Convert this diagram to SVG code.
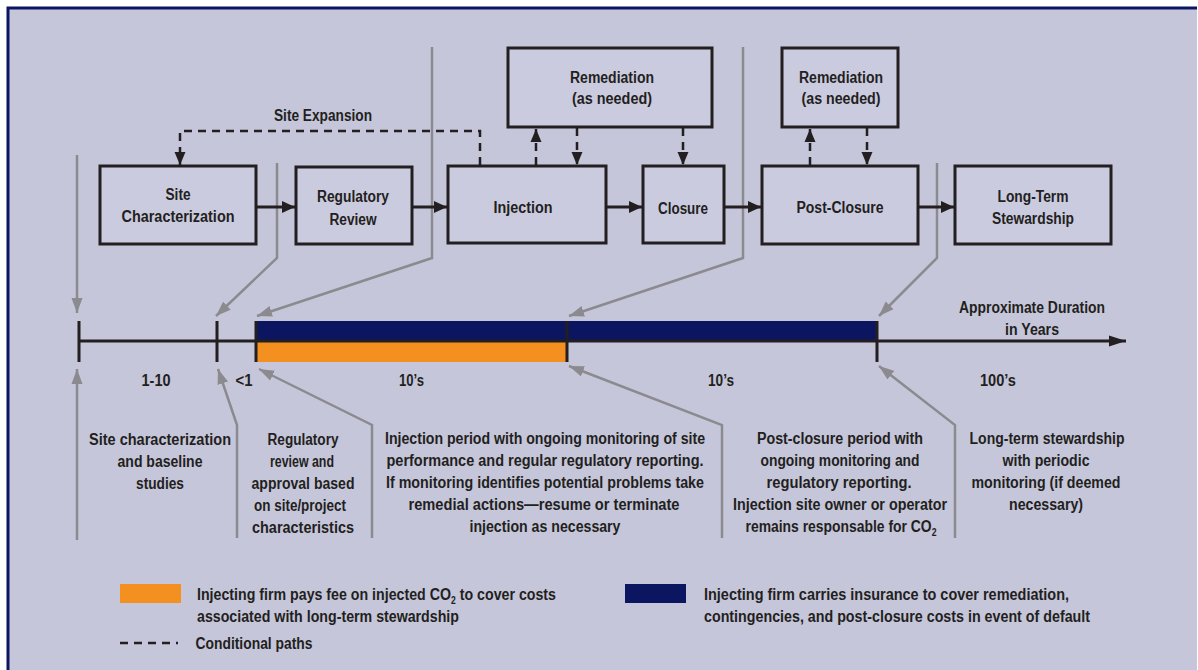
<svg xmlns="http://www.w3.org/2000/svg" width="1198" height="670" viewBox="0 0 1198 670">
<defs>
<style>
text{font-family:"Liberation Sans",Arial,sans-serif;font-weight:bold;fill:#231f20;}
.bt{font-size:16px;text-anchor:middle;}
.dt{font-size:16px;text-anchor:middle;}
.lt{font-size:16.5px;}
.box{fill:#cbcbe0;stroke:#231f20;stroke-width:3;}
.flow{fill:none;stroke:#231f20;stroke-width:3;}
.cond{fill:none;stroke:#231f20;stroke-width:2.5;stroke-dasharray:8 6;}
.call{fill:none;stroke:#8b8b8f;stroke-width:2.5;}
.tick{stroke:#231f20;stroke-width:3;}
</style>
<marker id="ab" markerUnits="userSpaceOnUse" markerWidth="14" markerHeight="12" refX="13" refY="6" orient="auto"><path d="M0,0 L13,6 L0,12 z" fill="#231f20"/></marker>
<marker id="at" markerUnits="userSpaceOnUse" markerWidth="18" markerHeight="12" refX="17" refY="6" orient="auto"><path d="M0,0.5 L17,6 L0,11.5 z" fill="#231f20"/></marker>
<marker id="ad" markerUnits="userSpaceOnUse" markerWidth="14" markerHeight="12" refX="13" refY="6" orient="auto"><path d="M0,0.5 L13,6 L0,11.5 z" fill="#231f20"/></marker>
<marker id="ag" markerUnits="userSpaceOnUse" markerWidth="16" markerHeight="12" refX="15" refY="6" orient="auto"><path d="M0,0.5 L15,6 L0,11.5 z" fill="#8b8b8f"/></marker>
</defs>
<rect x="0" y="0" width="1198" height="670" fill="#ffffff"/>
<rect x="8" y="8" width="1189" height="662" fill="#c5c6da"/>
<path d="M8,670 V8 H1197" fill="none" stroke="#0c1660" stroke-width="3"/>

<g id="callouts">
<path class="call" d="M77,155 V313" marker-end="url(#ag)"/>
<path class="call" d="M277,163 V258 L216,316" marker-end="url(#ag)"/>
<path class="call" d="M432,47 V258 L257,316" marker-end="url(#ag)"/>
<path class="call" d="M743,47 V258 L569,316" marker-end="url(#ag)"/>
<path class="call" d="M937,163 V258 L879,316" marker-end="url(#ag)"/>
<path class="call" d="M77,540 V369" marker-end="url(#ag)"/>
<path class="call" d="M237,538 V425 L218,369" marker-end="url(#ag)"/>
<path class="call" d="M372,538 V425 L259,369" marker-end="url(#ag)"/>
<path class="call" d="M722,538 V425 L569,366" marker-end="url(#ag)"/>
<path class="call" d="M955,538 V425 L879,366" marker-end="url(#ag)"/>
</g>

<g id="connectors">
<path class="flow" d="M256,207 H295" marker-end="url(#ab)"/>
<path class="flow" d="M412,207 H447" marker-end="url(#ab)"/>
<path class="flow" d="M606,207 H642" marker-end="url(#ab)"/>
<path class="flow" d="M724,207 H761" marker-end="url(#ab)"/>
<path class="flow" d="M918,207 H954" marker-end="url(#ab)"/>
<path class="cond" d="M480,165 V131 H180 V165" marker-end="url(#ad)"/>
<path class="cond" d="M536,165 V129" marker-end="url(#ad)"/>
<path class="cond" d="M577,128 V165" marker-end="url(#ad)"/>
<path class="cond" d="M683,128 V165" marker-end="url(#ad)"/>
<path class="cond" d="M810,165 V129" marker-end="url(#ad)"/>
<path class="cond" d="M867,128 V165" marker-end="url(#ad)"/>
<text class="bt" x="323" y="121" textLength="98" lengthAdjust="spacingAndGlyphs">Site Expansion</text>
</g>

<g id="site-characterization">
<rect class="box" x="100" y="166" width="156" height="78"/>
<text class="bt" x="178" y="199.5" textLength="25" lengthAdjust="spacingAndGlyphs">Site</text>
<text class="bt" x="178" y="222" textLength="113" lengthAdjust="spacingAndGlyphs">Characterization</text>
</g>
<g id="regulatory-review">
<rect class="box" x="296" y="167" width="116" height="77"/>
<text class="bt" x="353" y="202" textLength="72" lengthAdjust="spacingAndGlyphs">Regulatory</text>
<text class="bt" x="353" y="225" textLength="47" lengthAdjust="spacingAndGlyphs">Review</text>
</g>
<g id="injection">
<rect class="box" x="448" y="166" width="158" height="77"/>
<text class="bt" x="523" y="212.5" textLength="59" lengthAdjust="spacingAndGlyphs">Injection</text>
</g>
<g id="closure">
<rect class="box" x="643" y="166" width="81" height="77"/>
<text class="bt" x="683" y="213.5" textLength="50" lengthAdjust="spacingAndGlyphs">Closure</text>
</g>
<g id="remediation-1">
<rect class="box" x="508" y="48" width="204" height="79"/>
<text class="bt" x="612" y="82.5" textLength="84" lengthAdjust="spacingAndGlyphs">Remediation</text>
<text class="bt" x="612" y="104" textLength="80" lengthAdjust="spacingAndGlyphs">(as needed)</text>
</g>
<g id="post-closure">
<rect class="box" x="762" y="166" width="156" height="78"/>
<text class="bt" x="840" y="213" textLength="87" lengthAdjust="spacingAndGlyphs">Post-Closure</text>
</g>
<g id="remediation-2">
<rect class="box" x="782" y="48" width="116" height="79"/>
<text class="bt" x="841" y="82.5" textLength="84" lengthAdjust="spacingAndGlyphs">Remediation</text>
<text class="bt" x="841" y="104" textLength="79" lengthAdjust="spacingAndGlyphs">(as needed)</text>
</g>
<g id="long-term-stewardship">
<rect class="box" x="955" y="166" width="156" height="78"/>
<text class="bt" x="1033" y="202" textLength="71" lengthAdjust="spacingAndGlyphs">Long-Term</text>
<text class="bt" x="1033" y="224" textLength="82" lengthAdjust="spacingAndGlyphs">Stewardship</text>
</g>

<g id="timeline">
<rect x="256" y="321" width="621" height="20" fill="#0c1660"/>
<rect x="256" y="341" width="311" height="21" fill="#f3901f"/>
<path class="flow" d="M79,341 H1126" marker-end="url(#at)"/>
<line class="tick" x1="79" y1="321" x2="79" y2="362"/>
<line class="tick" x1="217" y1="321" x2="217" y2="362"/>
<line class="tick" x1="256" y1="321" x2="256" y2="362"/>
<line class="tick" x1="567" y1="321" x2="567" y2="362"/>
<line class="tick" x1="877" y1="321" x2="877" y2="362"/>
<text class="dt" x="1032" y="312.5" textLength="146" lengthAdjust="spacingAndGlyphs">Approximate Duration</text>
<text class="dt" x="1032" y="335" textLength="54" lengthAdjust="spacingAndGlyphs">in Years</text>
<text class="dt" x="156" y="386" textLength="29" lengthAdjust="spacingAndGlyphs">1-10</text>
<text class="dt" x="244" y="386" textLength="17" lengthAdjust="spacingAndGlyphs">&lt;1</text>
<text class="dt" x="411.5" y="386" textLength="25" lengthAdjust="spacingAndGlyphs">10’s</text>
<text class="dt" x="721" y="386" textLength="26" lengthAdjust="spacingAndGlyphs">10’s</text>
<text class="dt" x="998" y="386" textLength="36" lengthAdjust="spacingAndGlyphs">100’s</text>
</g>

<g id="descriptions">
<text class="dt" x="160" y="445" textLength="142" lengthAdjust="spacingAndGlyphs">Site characterization</text>
<text class="dt" x="160" y="467" textLength="85" lengthAdjust="spacingAndGlyphs">and baseline</text>
<text class="dt" x="160" y="489" textLength="48" lengthAdjust="spacingAndGlyphs">studies</text>
<text class="dt" x="303" y="445" textLength="71" lengthAdjust="spacingAndGlyphs">Regulatory</text>
<text class="dt" x="302" y="467" textLength="64" lengthAdjust="spacingAndGlyphs">review and</text>
<text class="dt" x="303" y="489" textLength="103" lengthAdjust="spacingAndGlyphs">approval based</text>
<text class="dt" x="300" y="511" textLength="92" lengthAdjust="spacingAndGlyphs">on site/project</text>
<text class="dt" x="303" y="533" textLength="102" lengthAdjust="spacingAndGlyphs">characteristics</text>
<text class="dt" x="545" y="444" textLength="320" lengthAdjust="spacingAndGlyphs">Injection period with ongoing monitoring of site</text>
<text class="dt" x="545" y="466" textLength="317" lengthAdjust="spacingAndGlyphs">performance and regular regulatory reporting.</text>
<text class="dt" x="545" y="488" textLength="318" lengthAdjust="spacingAndGlyphs">If monitoring identifies potential problems take</text>
<text class="dt" x="544" y="510" textLength="271" lengthAdjust="spacingAndGlyphs">remedial actions—resume or terminate</text>
<text class="dt" x="545" y="532" textLength="151" lengthAdjust="spacingAndGlyphs">injection as necessary</text>
<text class="dt" x="840" y="444" textLength="166" lengthAdjust="spacingAndGlyphs">Post-closure period with</text>
<text class="dt" x="840" y="466" textLength="159" lengthAdjust="spacingAndGlyphs">ongoing monitoring and</text>
<text class="dt" x="839" y="488" textLength="145" lengthAdjust="spacingAndGlyphs">regulatory reporting.</text>
<text class="dt" x="840" y="510" textLength="214" lengthAdjust="spacingAndGlyphs">Injection site owner or operator</text>
<text class="dt" x="841" y="532" textLength="191" lengthAdjust="spacingAndGlyphs">remains responsable for CO<tspan font-size="10" dy="4">2</tspan></text>
<text class="dt" x="1047" y="444" textLength="155" lengthAdjust="spacingAndGlyphs">Long-term stewardship</text>
<text class="dt" x="1046" y="466" textLength="87" lengthAdjust="spacingAndGlyphs">with periodic</text>
<text class="dt" x="1046" y="488" textLength="149" lengthAdjust="spacingAndGlyphs">monitoring (if deemed</text>
<text class="dt" x="1046" y="510" textLength="74" lengthAdjust="spacingAndGlyphs">necessary)</text>
</g>

<g id="legend">
<rect x="120" y="584" width="61" height="19" fill="#f3901f"/>
<text class="lt" x="197" y="600" textLength="359" lengthAdjust="spacingAndGlyphs">Injecting firm pays fee on injected CO<tspan font-size="10" dy="4">2</tspan><tspan dy="-4"> to cover costs</tspan></text>
<text class="lt" x="197" y="621.5" textLength="262" lengthAdjust="spacingAndGlyphs">associated with long-term stewardship</text>
<path class="cond" d="M120,643 H178" stroke-dasharray="8 7"/>
<text class="lt" x="195.5" y="649" textLength="117" lengthAdjust="spacingAndGlyphs">Conditional paths</text>
<rect x="625" y="584" width="61" height="19" fill="#0c1660"/>
<text class="lt" x="704" y="600" textLength="365" lengthAdjust="spacingAndGlyphs">Injecting firm carries insurance to cover remediation,</text>
<text class="lt" x="704" y="621.5" textLength="386" lengthAdjust="spacingAndGlyphs">contingencies, and post-closure costs in event of default</text>
</g>
</svg>
